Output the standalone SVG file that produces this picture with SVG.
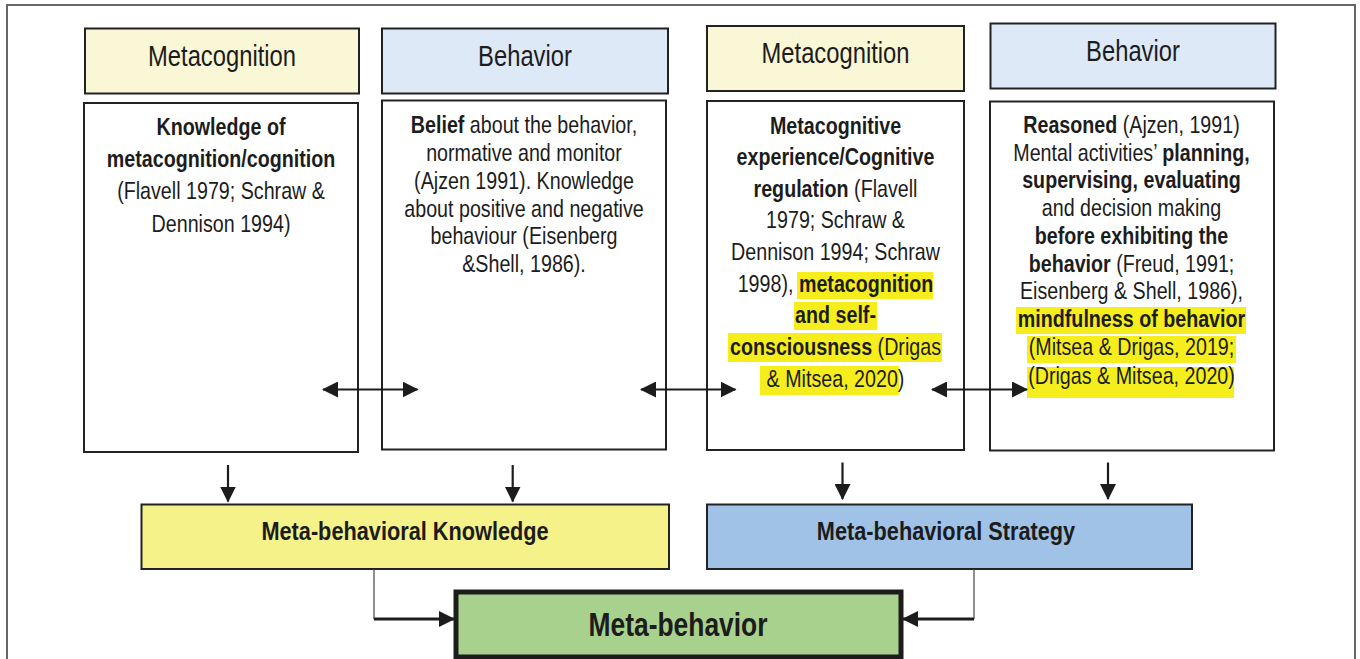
<svg xmlns="http://www.w3.org/2000/svg" width="1360" height="659" viewBox="0 0 1360 659">
<style>
text{font-family:"Liberation Sans",Arial,sans-serif;fill:#1c1c1c;text-anchor:middle}
.hd{font-size:29px}
.bd{font-size:24px}
.b{font-weight:bold}
.box{stroke:#222;stroke-width:2}
.hl{fill:#f5ee1c}
.conn{stroke:#1c1c1c;stroke-width:2.2;fill:none}
</style>
<defs>
<marker id="ah" markerUnits="userSpaceOnUse" markerWidth="16" markerHeight="16" refX="15" refY="8" orient="auto-start-reverse" viewBox="0 0 16 16">
<path d="M0,0 L16,8 L0,16 z" fill="#1c1c1c"/>
</marker>
<marker id="ahs" markerUnits="userSpaceOnUse" markerWidth="16" markerHeight="16" refX="15" refY="8" orient="auto" viewBox="0 0 16 16">
<path d="M0,0 L16,8 L0,16 z" fill="#1c1c1c"/>
</marker>
</defs>
<rect x="7" y="5" width="1348" height="700" fill="#fff" stroke="#666" stroke-width="2"/>

<g id="header1">
<rect class="box" x="85" y="28.5" width="274" height="65" fill="#f9f7d5"/>
<g transform="translate(222,0) scale(0.82,1)"><text class="hd" x="0" y="66">Metacognition</text></g>
</g>
<g id="header2">
<rect class="box" x="382" y="28.5" width="286" height="65" fill="#dde9f6"/>
<g transform="translate(525,0) scale(0.82,1)"><text class="hd" x="0" y="66">Behavior</text></g>
</g>
<g id="header3">
<rect class="box" x="707" y="26" width="257" height="65" fill="#f9f7d5"/>
<g transform="translate(835.5,0) scale(0.82,1)"><text class="hd" x="0" y="63">Metacognition</text></g>
</g>
<g id="header4">
<rect class="box" x="990.5" y="23.5" width="285" height="65" fill="#dde9f6"/>
<g transform="translate(1133,0) scale(0.82,1)"><text class="hd" x="0" y="61">Behavior</text></g>
</g>

<g id="body1">
<rect class="box" x="84" y="103" width="274" height="349" fill="#fff"/>
<g transform="translate(221,0) scale(0.82,1)">
<text class="bd b" x="0" y="135">Knowledge of</text>
<text class="bd b" x="0" y="167">metacognition/cognition</text>
<text class="bd" x="0" y="199">(Flavell 1979; Schraw &amp;</text>
<text class="bd" x="0" y="232">Dennison 1994)</text>
</g>
</g>

<g id="body2">
<rect class="box" x="382" y="100.5" width="284" height="349" fill="#fff"/>
<g transform="translate(524,0) scale(0.82,1)">
<text class="bd" x="0" y="133"><tspan class="b">Belief</tspan> about the behavior,</text>
<text class="bd" x="0" y="161">normative and monitor</text>
<text class="bd" x="0" y="189">(Ajzen 1991). Knowledge</text>
<text class="bd" x="0" y="217">about positive and negative</text>
<text class="bd" x="0" y="244">behaviour (Eisenberg</text>
<text class="bd" x="0" y="272">&amp;Shell, 1986).</text>
</g>
</g>

<g id="body3">
<rect class="box" x="707" y="101" width="257" height="349" fill="#fff"/>
<rect class="hl" x="797" y="272" width="136" height="27"/>
<rect class="hl" x="794" y="302" width="83" height="28"/>
<rect class="hl" x="728" y="333" width="214" height="29"/>
<rect class="hl" x="760" y="366" width="139" height="29"/>
<g transform="translate(835.5,0) scale(0.82,1)">
<text class="bd b" x="0" y="134">Metacognitive</text>
<text class="bd b" x="0" y="165">experience/Cognitive</text>
<text class="bd" x="0" y="197"><tspan class="b">regulation</tspan> (Flavell</text>
<text class="bd" x="0" y="228">1979; Schraw &amp;</text>
<text class="bd" x="0" y="260">Dennison 1994; Schraw</text>
<text class="bd" x="0" y="292">1998), <tspan class="b">metacognition</tspan></text>
<text class="bd b" x="0" y="323">and self-</text>
<text class="bd" x="0" y="355"><tspan class="b">consciousness</tspan> (Drigas</text>
<text class="bd" x="0" y="387">&amp; Mitsea, 2020)</text>
</g>
</g>

<g id="body4">
<rect class="box" x="990" y="101.5" width="284" height="349" fill="#fff"/>
<rect class="hl" x="1016" y="307" width="230" height="27"/>
<rect class="hl" x="1027" y="336" width="209" height="27"/>
<rect class="hl" x="1027" y="367" width="207" height="31"/>
<g transform="translate(1131.5,0) scale(0.82,1)">
<text class="bd" x="0" y="133"><tspan class="b">Reasoned</tspan> (Ajzen, 1991)</text>
<text class="bd" x="0" y="161">Mental activities’ <tspan class="b">planning,</tspan></text>
<text class="bd b" x="0" y="188">supervising, evaluating</text>
<text class="bd" x="0" y="216">and decision making</text>
<text class="bd b" x="0" y="244">before exhibiting the</text>
<text class="bd" x="0" y="272"><tspan class="b">behavior</tspan> (Freud, 1991;</text>
<text class="bd" x="0" y="299">Eisenberg &amp; Shell, 1986),</text>
<text class="bd b" x="0" y="327">mindfulness of behavior</text>
<text class="bd" x="0" y="355">(Mitsea &amp; Drigas, 2019;</text>
<text class="bd" x="0" y="384">(Drigas &amp; Mitsea, 2020)</text>
</g>
</g>

<g id="knowledge">
<rect class="box" x="141.5" y="504.5" width="527.5" height="64.5" fill="#f6f28a"/>
<g transform="translate(405,0) scale(0.82,1)"><text class="b" style="font-size:26.5px" x="0" y="540">Meta-behavioral Knowledge</text></g>
</g>
<g id="strategy">
<rect class="box" x="707" y="504.5" width="485" height="64.5" fill="#9fc2e6"/>
<g transform="translate(946,0) scale(0.82,1)"><text class="b" style="font-size:26.5px" x="0" y="540">Meta-behavioral Strategy</text></g>
</g>
<g id="metabehavior">
<rect x="456" y="592" width="445" height="65" fill="#a9d18e" stroke="#1c1c1c" stroke-width="5"/>
<g transform="translate(678,0) scale(0.8,1)"><text class="b" style="font-size:33px" x="0" y="636">Meta-behavior</text></g>
</g>

<g id="connectors">
<line class="conn" x1="323" y1="389.5" x2="417.5" y2="389.5" marker-start="url(#ah)" marker-end="url(#ah)"/>
<line class="conn" x1="641" y1="389.5" x2="735.5" y2="389.5" marker-start="url(#ah)" marker-end="url(#ah)"/>
<line class="conn" x1="932" y1="389.5" x2="1027" y2="389.5" marker-start="url(#ah)" marker-end="url(#ah)"/>
<line class="conn" x1="228" y1="465" x2="228" y2="501.5" marker-end="url(#ahs)"/>
<line class="conn" x1="512.7" y1="465" x2="512.7" y2="501.5" marker-end="url(#ahs)"/>
<line class="conn" x1="842.5" y1="462.5" x2="842.5" y2="499" marker-end="url(#ahs)"/>
<line class="conn" x1="1108" y1="462.5" x2="1108" y2="499" marker-end="url(#ahs)"/>
<path d="M374,569 V619" stroke="#444" stroke-width="1.2" fill="none"/>
<line x1="374" y1="619" x2="454" y2="619" stroke="#1c1c1c" stroke-width="3" marker-end="url(#ahs)"/>
<path d="M974,569 V619" stroke="#444" stroke-width="1.2" fill="none"/>
<line x1="974" y1="619" x2="903" y2="619" stroke="#1c1c1c" stroke-width="3" marker-end="url(#ahs)"/>
</g>
</svg>
